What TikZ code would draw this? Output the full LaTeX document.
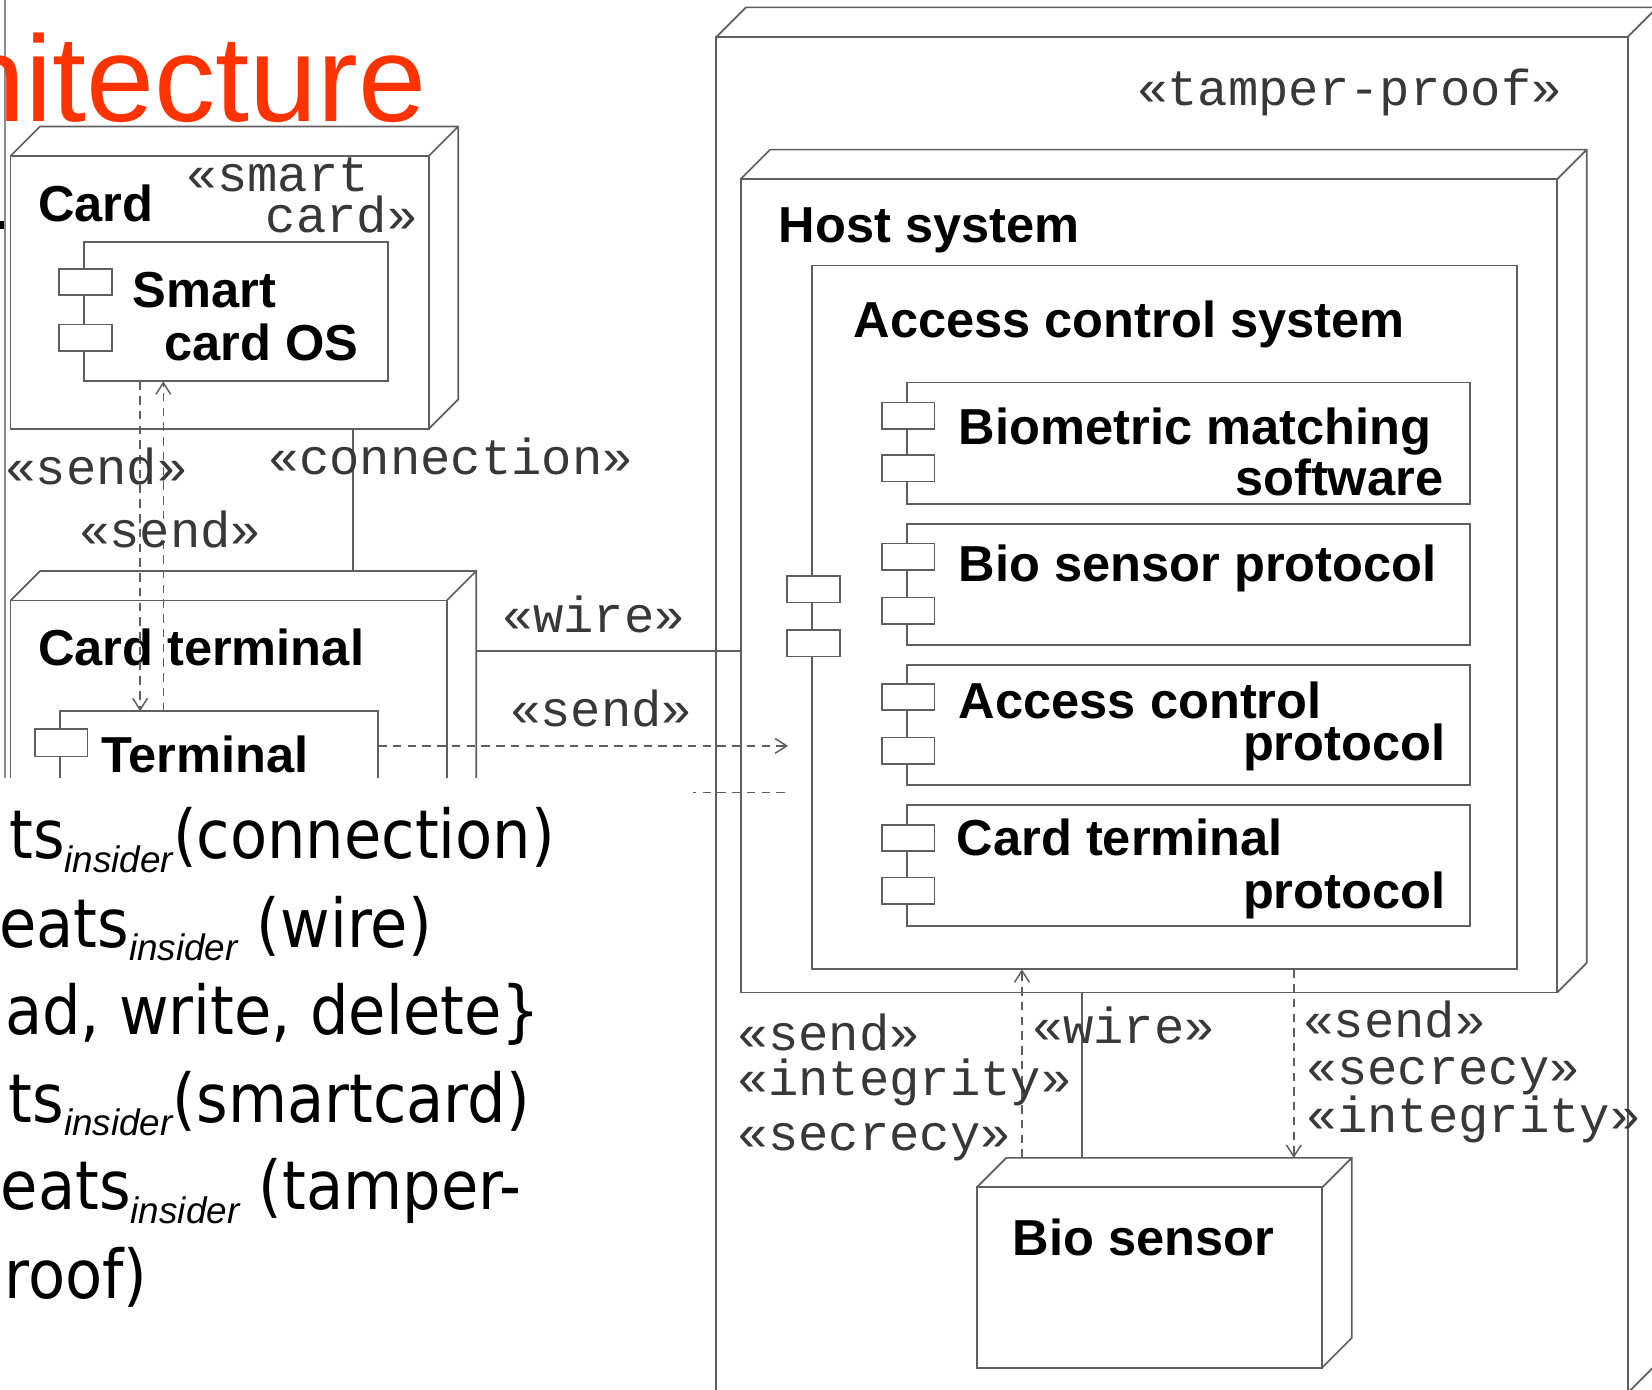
\documentclass[tikz,border=0pt]{standalone}
\usepackage{fontspec}
\usepackage{tikz}
\usetikzlibrary{calc,arrows.meta}

\newfontfamily\diafont{Liberation Sans}
\newfontfamily\stereofont{Liberation Mono}
\newfontfamily\slidefont[FakeStretch=0.9]{DejaVu Sans}
\definecolor{slidered}{RGB}{255,51,0}
\definecolor{boxgray}{RGB}{95,95,95}

\tikzset{
	box/.style={draw=boxgray, line width=1.8pt, fill=white, rectangle, inner sep=0pt, outer sep=0pt, anchor=north west},
	tab/.style={draw=boxgray, line width=1.6pt, fill=white},
	boxname/.style={inner sep=0pt, anchor=base west, font=\diafont\bfseries\fontsize{48}{56}\selectfont},
	stereo/.style={inner sep=0pt, anchor=base west, text=black!78, font=\stereofont\fontsize{48}{56}\selectfont},
	wireline/.style={draw=boxgray, line width=1.6pt},
	sendline/.style={draw=boxgray, line width=1.4pt, dash pattern=on 8pt off 6pt, -{Straight Barb[length=11pt,width=14pt]}},
	slide/.style={inner sep=0pt, anchor=base east, font=\slidefont\fontsize{64}{72}\selectfont}
}
\newcommand{\ins}{{\diafont\itshape\fontsize{35}{40}\selectfont\raisebox{-13pt}{insider}}}

\begin{document}
\begin{tikzpicture}[x=1pt, y=-1pt]

		% === page size and node depth ===
		\def\dep{28}
		\useasboundingbox (0,0) rectangle (1568,1319);
		\clip (0,0) rectangle (1568,1319);

		% === slide frame and title ===
		\draw[black!45, line width=2pt] (5,0) -- (5,740);
		\fill[black] (0,210) rectangle (4,217);
		\node[anchor=base east, inner sep=0pt, text=slidered, font=\diafont\fontsize{116}{130}\selectfont] (title) at (405,115) {hitecture};

		% === Nodes (front faces) ===
		\node[box, minimum width=865, minimum height=1287] (tamper) at (680,35) {};
		\node[box, minimum width=775, minimum height=772] (host) at (703,170) {};
		\node[box, minimum width=669, minimum height=668] (acs) at (771,252) {};
		\node[box, minimum width=534, minimum height=115] (bms) at (861,363) {};
		\node[box, minimum width=534, minimum height=115] (bsp) at (861,497) {};
		\node[box, minimum width=534, minimum height=114] (acp) at (861,631) {};
		\node[box, minimum width=534, minimum height=115] (ctp) at (861,764) {};
		\node[box, minimum width=328, minimum height=171] (bio) at (927,1127) {};
		\node[box, minimum width=397, minimum height=259] (card) at (10,148) {};
		\node[box, minimum width=288, minimum height=132] (smartos) at (80,230) {};
		\node[box, minimum width=414, minimum height=300] (term) at (10,570) {};
		\node[box, minimum width=302, minimum height=150] (terminal) at (57,675) {};

		% === Depth of the 3d nodes ===
		\foreach \n in {tamper, host, card, term, bio} {
			\draw[wireline] (\n.north west) -- ++(\dep,-\dep) -- ($(\n.north east)+(\dep,-\dep)$)
				-- ($(\n.south east)+(\dep,-\dep)$) -- (\n.south east)
				(\n.north east) -- ++(\dep,-\dep);
		}

		% === Component tabs ===
		\foreach \n/\a/\b in {smartos/25/78, bms/19/69, bsp/19/70, acp/18/69, ctp/19/69, acs/295/346} {
			\draw[tab] ($(\n.north west)+(-24,\a)$) rectangle ++(50,25);	% upper tab
			\draw[tab] ($(\n.north west)+(-24,\b)$) rectangle ++(50,25);	% lower tab
		}
		\draw[tab] ($(terminal.north west)+(-24,17)$) rectangle ++(50,26);

		% === Node names ===
		\node[boxname] (ncard) at (36,210) {Card};
		\node[stereo] (nsmart1) at (177,182) {«smart};
		\node[stereo] (nsmart2) at (252,221) {card»};
		\node[boxname] (nos1) at (126,292) {Smart};
		\node[boxname] (nos2) at (156,342) {card OS};
		\node[boxname] (nterm) at (36,632) {Card terminal};
		\node[boxname] (nterminal) at (96,733) {Terminal};
		\node[stereo] (ntamper) at (1079,100) {«tamper-proof»};
		\node[boxname] (nhost) at (739,230) {Host system};
		\node[boxname] (nacs) at (810,320) {Access control system};
		\node[boxname] (nbms1) at (910,422) {Biometric matching};
		\node[boxname, anchor=base east] (nbms2) at (1370,470) {software};
		\node[boxname] (nbsp) at (910,552) {Bio sensor protocol};
		\node[boxname] (nacp1) at (910,682) {Access control};
		\node[boxname, anchor=base east] (nacp2) at (1372,722) {protocol};
		\node[boxname] (nctp1) at (908,812) {Card terminal};
		\node[boxname, anchor=base east] (nctp2) at (1372,862) {protocol};
		\node[boxname] (nbio) at (961,1192) {Bio sensor};

		% === Connectors ===
		\draw[wireline] ($(card.south west)+(325,0)$) -- ($(term.north west)+(325,-\dep)$);
		\draw[sendline] ($(smartos.south west)+(53,0)$) -- ($(terminal.north west)+(76,0)$);
		\draw[sendline] ($(terminal.north west)+(98,0)$) -- ($(smartos.south west)+(75,0)$);
		\draw[wireline] ($(term.north east)+(\dep,48)$) -- ($(host.north west)+(0,448)$);
		\draw[sendline] ($(terminal.north east)+(0,33)$) -- ($(acs.north west)+(-23,456)$);
		\draw[sendline, -] ($(terminal.north east)+(0,77)$) -- ($(acs.north west)+(-23,500)$);
		\draw[sendline] ($(bio.north west)+(43,-\dep)$) -- ($(acs.south west)+(199,0)$);
		\draw[wireline] ($(bio.north west)+(100,-\dep)$) -- ($(host.south west)+(324,0)$);
		\draw[sendline] ($(acs.south west)+(457,0)$) -- ($(bio.north west)+(301,-\dep)$);

		% === Connector labels ===
		\node[stereo] (lsend1) at (5,460) {«send»};
		\node[stereo] (lsend2) at (75,520) {«send»};
		\node[stereo] (lconn) at (255,450) {«connection»};
		\node[stereo] (lwire1) at (477,600) {«wire»};
		\node[stereo] (lsend3) at (484,690) {«send»};
		\node[stereo] (lsend4) at (700,997) {«send»};
		\node[stereo] (linteg1) at (700,1040) {«integrity»};
		\node[stereo] (lsecr1) at (700,1092) {«secrecy»};
		\node[stereo] (lwire2) at (980,990) {«wire»};
		\node[stereo] (lsend5) at (1237,985) {«send»};
		\node[stereo] (lsecr2) at (1240,1029) {«secrecy»};
		\node[stereo] (linteg2) at (1240,1075) {«integrity»};

		% === Slide text box over the diagram ===
		\fill[white] (-5,738) rectangle (658,1330);
		\node[slide] (ln1) at (527,815) {ts\ins(connection)};
		\node[slide] (ln2) at (410,899) {eats\ins\ (wire)};
		\node[slide] (ln3) at (513,982) {ad, write, delete\}};
		\node[slide] (ln4) at (503,1065) {ts\ins(smartcard)};
		\node[slide] (ln5) at (495,1148) {eats\ins\ (tamper-};
		\node[slide] (ln6) at (140,1232) {roof)};
	\end{tikzpicture}
\end{document}
